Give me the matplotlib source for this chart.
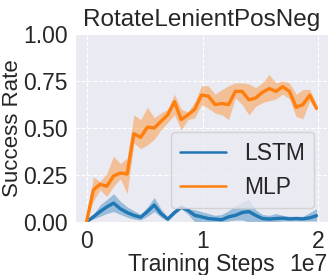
import numpy as np
import matplotlib
matplotlib.use("Agg")
import matplotlib.pyplot as plt
import seaborn as sns

sns.set_style("darkgrid")
plt.rcParams['font.family'] = ['Liberation Sans', 'DejaVu Sans']

steps = np.linspace(0, 1.983e7, 35)

mlp_mean = [0.0, 0.17, 0.20, 0.19, 0.245, 0.26, 0.255, 0.47, 0.45, 0.505,
            0.50, 0.535, 0.57, 0.64, 0.545, 0.57, 0.60, 0.675, 0.67, 0.625,
            0.63, 0.625, 0.695, 0.695, 0.65, 0.66, 0.69, 0.71, 0.695, 0.72,
            0.695, 0.61, 0.625, 0.675, 0.605]
mlp_upper = [0.0, 0.24, 0.215, 0.26, 0.35, 0.31, 0.34, 0.57, 0.545, 0.61,
             0.555, 0.58, 0.60, 0.68, 0.60, 0.585, 0.64, 0.725, 0.725, 0.68,
             0.705, 0.725, 0.74, 0.74, 0.735, 0.715, 0.74, 0.785, 0.74, 0.75,
             0.74, 0.68, 0.705, 0.705, 0.625]
mlp_lower = [0.0, 0.11, 0.17, 0.135, 0.19, 0.23, 0.15, 0.42, 0.39, 0.41,
             0.44, 0.49, 0.53, 0.57, 0.49, 0.545, 0.555, 0.625, 0.605, 0.58,
             0.57, 0.545, 0.66, 0.625, 0.57, 0.615, 0.635, 0.645, 0.655, 0.68,
             0.655, 0.56, 0.55, 0.645, 0.59]

lstm_mean = [0.0, 0.027, 0.055, 0.08, 0.10, 0.07, 0.05, 0.035, 0.025, 0.055,
             0.09, 0.045, 0.015, 0.05, 0.078, 0.062, 0.035, 0.027, 0.018, 0.015,
             0.012, 0.027, 0.035, 0.05, 0.055, 0.035, 0.018, 0.015, 0.018, 0.02,
             0.016, 0.018, 0.016, 0.022, 0.033]
lstm_upper = [0.0, 0.04, 0.09, 0.12, 0.15, 0.11, 0.08, 0.06, 0.04, 0.08,
              0.13, 0.07, 0.025, 0.06, 0.085, 0.07, 0.065, 0.055, 0.045, 0.035,
              0.04, 0.06, 0.085, 0.105, 0.12, 0.065, 0.04, 0.035, 0.045, 0.035,
              0.03, 0.03, 0.03, 0.05, 0.07]
lstm_lower = [0.0, 0.015, 0.03, 0.045, 0.055, 0.04, 0.025, 0.015, 0.01, 0.03,
              0.055, 0.025, 0.005, 0.04, 0.07, 0.04, 0.0, 0.0, 0.0, 0.0,
              0.0, 0.005, 0.01, 0.01, 0.0, 0.0, 0.0, 0.0, 0.0, 0.005,
              0.005, 0.005, 0.005, 0.005, 0.005]

yticks = [0.0, 0.25, 0.5, 0.75, 1.0]
ytick_labels = ["0.00", "0.25", "0.50", "0.75", "1.00"]

fig = plt.figure(figsize=(3.32, 2.75), dpi=100)
ax = fig.add_axes([0.226, 0.193, 0.762, 0.683])

blue = "#1f77b4"
orange = "#ff7f0e"

ax.fill_between(steps, lstm_lower, lstm_upper, color=blue, alpha=0.4, linewidth=0)
ax.plot(steps, lstm_mean, color=blue, linewidth=2.4, label="LSTM")
ax.fill_between(steps, mlp_lower, mlp_upper, color=orange, alpha=0.4, linewidth=0)
ax.plot(steps, mlp_mean, color=orange, linewidth=2.4, label="MLP")

ax.set_ylim(0, 1.0)
ax.set_yticks(yticks)
ax.set_yticklabels(ytick_labels)
ax.grid(True, color="white", linestyle="--", linewidth=0.8)
ax.tick_params(axis="y", labelsize=16.5, pad=2)
ax.tick_params(axis="x", labelsize=16.5, pad=2)

ax.set_title("RotateLenientPosNeg", fontsize=17.5, pad=6)
ax.set_xlabel("Training Steps", fontsize=16.5, labelpad=0)
ax.set_ylabel("Success Rate", fontsize=16, labelpad=0)

leg = ax.legend(loc="lower right", fontsize=16.5, handlelength=2.0,
                borderaxespad=0.6)
for h in leg.get_lines():
    h.set_linewidth(1.8)

# offset text drawn on the same line as the x label, at the right edge
ax.xaxis.get_offset_text().set_visible(False)
fig.canvas.draw()
offset_str = ax.xaxis.get_major_formatter().get_offset()
lab_bb = ax.xaxis.label.get_window_extent()
y_fig = fig.transFigure.inverted().transform((0, lab_bb.y0))[1]
fig.text(0.985, y_fig, offset_str, ha="right", va="bottom", fontsize=16.5,
         color=plt.rcParams["text.color"])

fig.savefig("out.png", dpi=100)
